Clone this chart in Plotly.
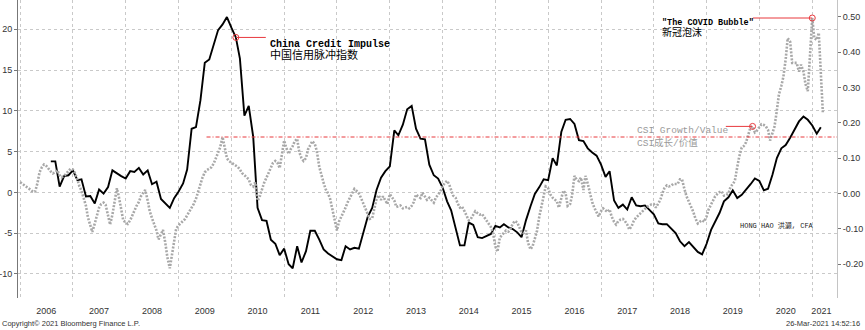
import pandas as pd
import plotly.graph_objects as go

# China credit impulse, monthly, from Aug 2006 (left axis)
credit_impulse = [
    3.8, 3.8, 0.7, 2.0, 2.1,
    2.7, 1.5, 1.6, -0.5, -0.45, -1.35, 0.35, -0.15, 0.65, 2.7, 2.3, 2.0,
    1.7, 2.6, 2.5, 3.0, 2.2, 2.7, 1.0, 1.3, -0.8, -1.3, -1.9, -0.7,
    0.1, 1.1, 2.8, 7.8, 8.0, 11.3, 15.9, 16.3, 18.1, 19.9, 20.6, 21.5,
    20.2, 19.0, 16.4, 9.4, 10.6, 6.8, -1.9, -3.4, -3.5, -5.8, -6.3, -7.7,
    -6.9, -8.8, -9.3, -6.6, -8.6, -7.2, -4.7, -4.7, -5.8, -7.0, -7.5, -7.9,
    -8.2, -8.3, -6.6, -7.0, -6.8, -6.9, -4.9, -3.0, -1.9, 0.3, 1.8, 2.6,
    3.2, 7.6, 7.0, 8.3, 10.2, 10.6, 7.8, 6.6, 6.5, 3.4, 2.1, 1.7,
    0.6, -1.1, -2.2, -4.5, -6.5, -6.5, -3.7, -4.0, -5.5, -5.6, -5.3, -5.1,
    -4.1, -4.3, -3.9, -4.3, -4.5, -4.9, -5.5, -3.4, -1.7, -0.2, 0.65, 1.6,
    1.5, 4.2, 3.3, 7.4, 8.9, 9.0, 8.4, 6.4, 6.3, 5.4, 4.9, 4.5,
    3.4, 1.9, 2.6, -1.0, -1.9, -1.5, -2.1, -0.6, -1.6, -1.7, -1.6, -2.2,
    -2.7, -3.8, -3.9, -3.9, -4.5, -5.0, -6.0, -6.6, -6.1, -6.7, -7.3, -7.6,
    -6.3, -4.6, -3.6, -2.5, -1.1, -0.6, 0.25, -0.7, -0.3, 0.3, 1.0, 1.7,
    1.4, 0.25, 0.45, 2.2, 4.2, 5.4, 5.8, 6.7, 7.7, 8.7, 9.3, 8.9,
    8.2, 7.2, 8.0,
]
impulse_start = "2006-08-01"

# CSI growth / value relative, semi-monthly from Jan 2006 (right axis)
csi_2006 = [0.032, 0.028, 0.024, 0.020, 0.015, 0.010, 0.004, 0.006, 0.030, 0.060, 0.075, 0.082,
            0.078, 0.070, 0.062, 0.057, 0.060, 0.066, 0.052, 0.046, 0.050, 0.056, 0.062, 0.070]
csi_2007 = [0.068, 0.058, 0.040, 0.020, 0.008, -0.012, -0.035, -0.068, -0.090, -0.109, -0.085, -0.060,
            -0.040, -0.030, -0.026, -0.032, -0.060, -0.088, -0.060, -0.025, 0.015, -0.010, -0.050, -0.076]
csi_2008 = [-0.082, -0.086, -0.076, -0.062, -0.048, -0.036, -0.024, -0.008, 0.002, 0.010, -0.020, -0.050,
            -0.070, -0.085, -0.105, -0.130, -0.112, -0.103, -0.140, -0.180, -0.212, -0.175, -0.140, -0.100]
csi_2009 = [-0.090, -0.084, -0.079, -0.072, -0.062, -0.053, -0.040, -0.030, -0.015, 0.005, 0.030, 0.045,
            0.060, 0.066, 0.070, 0.074, 0.085, 0.098, 0.115, 0.130, 0.160, 0.130, 0.100, 0.092]
csi_2010 = [0.088, 0.084, 0.080, 0.075, 0.068, 0.058, 0.052, 0.045, 0.040, 0.025, 0.020, 0.032,
            -0.020, -0.010, 0.012, 0.030, 0.045, 0.058, 0.072, 0.086, 0.092, 0.088, 0.072, 0.110]
csi_2011 = [0.150, 0.130, 0.112, 0.125, 0.134, 0.148, 0.155, 0.118, 0.100, 0.092, 0.100, 0.125,
            0.140, 0.148, 0.140, 0.120, 0.075, 0.050, 0.030, 0.012, 0.000, -0.015, -0.045, -0.080]
csi_2012 = [-0.105, -0.080, -0.065, -0.057, -0.040, -0.025, -0.010, 0.002, 0.013, 0.008, 0.000, -0.012,
            -0.028, -0.045, -0.062, -0.072, -0.070, -0.045, -0.015, -0.005, -0.018, -0.008, -0.020, -0.030]
csi_2013 = [-0.002, -0.010, -0.020, -0.038, -0.036, -0.034, -0.042, -0.040, -0.038, -0.042, -0.035, -0.025,
            -0.003, -0.008, -0.013, 0.002, -0.008, -0.018, -0.012, -0.018, -0.026, -0.012, -0.002, 0.005]
csi_2014 = [0.020, 0.030, 0.036, 0.026, 0.010, -0.006, -0.012, -0.028, -0.040, -0.037, -0.050, -0.062,
            -0.076, -0.072, -0.060, -0.050, -0.056, -0.060, -0.058, -0.066, -0.075, -0.085, -0.095, -0.110]
csi_2015 = [-0.150, -0.165, -0.125, -0.118, -0.110, -0.105, -0.108, -0.100, -0.086, -0.078, -0.082, -0.095,
            -0.110, -0.112, -0.105, -0.140, -0.158, -0.150, -0.130, -0.108, -0.065, -0.040, -0.010, 0.020]
csi_2016 = [0.015, -0.002, -0.012, -0.018, -0.022, -0.040, -0.015, 0.008, 0.000, -0.035, -0.030, -0.005,
            0.050, 0.040, 0.035, 0.045, 0.010, 0.050, 0.028, 0.000, -0.025, -0.040, -0.055, -0.065]
csi_2017 = [-0.050, -0.042, -0.048, -0.052, -0.045, -0.065, -0.080, -0.088, -0.078, -0.074, -0.072, -0.078,
            -0.088, -0.102, -0.092, -0.078, -0.068, -0.062, -0.056, -0.050, -0.043, -0.038, -0.034, -0.031]
csi_2018 = [-0.030, -0.040, -0.028, -0.018, 0.000, 0.015, 0.023, 0.020, 0.022, 0.027, 0.027, 0.027,
            0.040, 0.040, 0.012, -0.008, -0.024, -0.036, -0.052, -0.070, -0.085, -0.080, -0.076, -0.080]
csi_2019 = [-0.065, -0.045, -0.032, -0.020, -0.008, -0.002, 0.004, 0.006, -0.006, -0.005, 0.000, 0.018,
            0.028, 0.035, 0.075, 0.105, 0.130, 0.134, 0.145, 0.165, 0.188, 0.190, 0.173, 0.178]
csi_2020 = [0.188, 0.196, 0.194, 0.190, 0.180, 0.150, 0.172, 0.190, 0.235, 0.280, 0.305, 0.330,
            0.380, 0.440, 0.430, 0.370, 0.370, 0.370, 0.345, 0.365, 0.345, 0.310, 0.290, 0.400]
csi_2021 = [0.497, 0.440, 0.435, 0.455, 0.330, 0.230]
csi_start = "2006-01-01"

year_labels = [str(y) for y in range(2006, 2022)]
left_ticks = [-10, -5, 0, 5, 10, 15, 20]
right_ticks = [-0.20, -0.10, 0.00, 0.10, 0.20, 0.30, 0.40, 0.50]

# callout points
impulse_callout_date = "2010-02-01"
csi_callout_date = "2019-11-15"
covid_callout_date = "2021-01-01"

csi_values = (csi_2006 + csi_2007 + csi_2008 + csi_2009 + csi_2010 + csi_2011 + csi_2012 + csi_2013
              + csi_2014 + csi_2015 + csi_2016 + csi_2017 + csi_2018 + csi_2019 + csi_2020 + csi_2021)
csi = pd.Series(csi_values, index=pd.date_range(csi_start, periods=len(csi_values), freq="SMS"))
impulse = pd.Series(credit_impulse,
                    index=pd.date_range(impulse_start, periods=len(credit_impulse), freq="MS"))
csi_2009_peak = csi["2009"].max()

x_start, x_end = "2005-12-17", "2021-06-21"
label_pos = [f"{y}-07-01" for y in range(2006, 2021)] + ["2021-03-05"]

RED = "#e8383d"
GRID = "#c9c9c9"
MONO = "Liberation Mono, Noto Sans CJK SC, monospace"
SANS = "Liberation Sans, Arial, sans-serif"

fig = go.Figure()

fig.add_trace(go.Scatter(
    x=csi.index, y=csi.values, yaxis="y2", mode="lines",
    line=dict(color="#a8a8a8", width=2.6, dash="2px,1.5px"),
    hoverinfo="skip", showlegend=False))

fig.add_trace(go.Scatter(
    x=impulse.index, y=impulse.values, mode="lines",
    line=dict(color="black", width=1.9),
    hoverinfo="skip", showlegend=False))

# reference level: 2009 peak of growth/value
fig.add_shape(type="line", xref="x", yref="y2",
              x0="2009-07-13", x1=x_end, y0=csi_2009_peak, y1=csi_2009_peak,
              line=dict(color=RED, width=1, dash="4px,2px,1px,2px"))

# callout leader lines
callouts = [
    (impulse_callout_date, impulse[impulse_callout_date], "y", "2010-08-27"),
    (covid_callout_date, csi[covid_callout_date], "y2", "2019-11-17"),
    (csi_callout_date, csi[csi_callout_date], "y2", "2019-05-14"),
]
for xd, val, yr, x_other in callouts:
    fig.add_shape(type="line", xref="x", yref=yr, x0=xd, x1=x_other, y0=val, y1=val,
                  line=dict(color=RED, width=1))
    fig.add_trace(go.Scatter(
        x=[xd], y=[val], yaxis=yr, mode="markers",
        marker=dict(symbol="circle-open", size=6, color=RED, line=dict(width=1)),
        hoverinfo="skip", showlegend=False))

def note(text, x, y, yref, size, color="black", family=MONO):
    fig.add_annotation(text=text, x=x, y=y, xref="x", yref=yref, xanchor="left", yanchor="middle",
                       showarrow=False, font=dict(family=family, size=size, color=color))

note("<b>China Credit Impulse</b>", "2010-09-10", 18.1, "y", 10)
note("中国信用脉冲指数", "2010-09-10", 16.8, "y", 11)
note("<b>\"The COVID Bubble\"</b>", "2018-02-12", 0.483, "y2", 8.5)
note("新冠泡沫", "2018-02-12", 0.455, "y2", 10)
note("CSI Growth/Value", "2017-08-23", 0.177, "y2", 9.5, color="#9a9a9a")
note("CSI成长/价值", "2017-08-23", 0.143, "y2", 9.5, color="#9a9a9a")
note("HONG HAO 洪灏, CFA", "2019-08-05", -4.0, "y", 7, color="#222222")

fig.add_annotation(text="Copyright© 2021 Bloomberg Finance L.P.", xref="paper", yref="paper",
                   x=-0.022, y=-0.087, xanchor="left", yanchor="middle", showarrow=False,
                   font=dict(family=SANS, size=7.5, color="#333333"))
fig.add_annotation(text="26-Mar-2021 14:52:16", xref="paper", yref="paper",
                   x=1.03, y=-0.087, xanchor="right", yanchor="middle", showarrow=False,
                   font=dict(family=SANS, size=7.5, color="#333333"))

fig.update_layout(
    width=865, height=330, autosize=False,
    margin=dict(l=18, r=28, t=0, b=32, pad=0),
    paper_bgcolor="white", plot_bgcolor="white",
    showlegend=False,
    xaxis=dict(
        type="date", range=[x_start, x_end],
        tickmode="array", tickvals=label_pos, ticktext=year_labels,
        showgrid=False, zeroline=False, showline=False, ticks="",
        ticklabelstandoff=6,
        tickfont=dict(family=SANS, size=9, color="#333333"),
        minor=dict(dtick="M12", tick0="2007-01-01", showgrid=True,
                   gridcolor=GRID, griddash="dot", gridwidth=1, ticks=""),
    ),
    yaxis=dict(
        range=[-12.95, 23.59], tickmode="array", tickvals=left_ticks,
        ticktext=[str(v) for v in left_ticks],
        showgrid=True, gridcolor=GRID, griddash="dot", gridwidth=1, zeroline=False,
        showline=True, linecolor="#777777", linewidth=1,
        ticks="outside", ticklen=3, tickcolor="#777777",
        tickfont=dict(family=SANS, size=9, color="#333333"),
    ),
    yaxis2=dict(
        overlaying="y", side="right", range=[-0.296, 0.548], tickmode="array",
        tickvals=right_ticks, ticktext=[f"{v:.2f}" for v in right_ticks],
        showgrid=False, zeroline=False,
        showline=True, linecolor="#c4c4c4", linewidth=1,
        ticks="outside", ticklen=3, tickcolor="#777777",
        tickfont=dict(family=SANS, size=9, color="#333333"),
    ),
)

fig.write_html("out.html")
